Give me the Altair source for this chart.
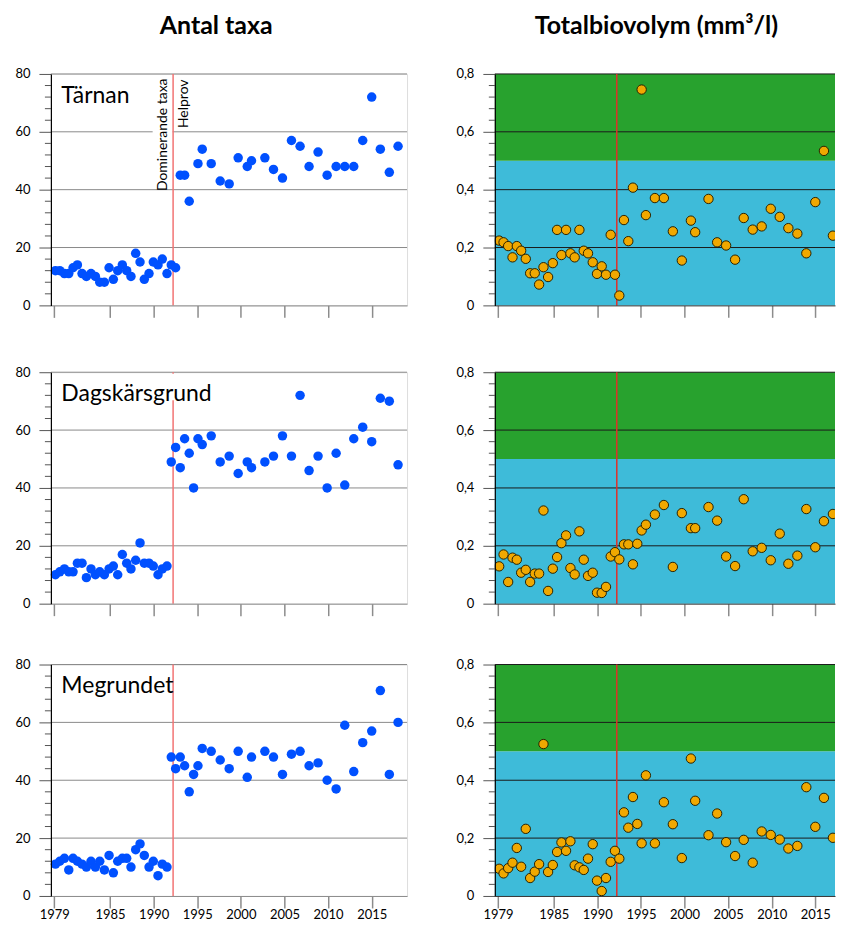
import altair as alt
import pandas as pd

# ---------------- data ----------------
dates = [1978.74, 1979.24, 1979.77, 1980.27, 1980.76, 1981.26, 1981.79, 1982.29,
         1982.82, 1983.32, 1983.82, 1984.35, 1984.89, 1985.38, 1985.88, 1986.41,
         1986.91, 1987.40, 1987.94, 1988.44, 1988.93, 1989.47, 1989.96, 1990.50,
         1990.99, 1991.53, 1992.02, 1992.52, 1993.05, 1993.55, 1994.08, 1994.58,
         1995.08, 1995.57, 1996.60, 1997.63, 1998.66, 1999.69, 2000.73, 2001.22,
         2002.75, 2003.74, 2004.77, 2005.80, 2006.79, 2007.82, 2008.85, 2009.89,
         2010.92, 2011.91, 2012.94, 2013.97, 2015.00, 2015.99, 2017.02, 2018.02]
# Tärnan has no sample at 1994.58
dates_tarnan = dates[:31] + dates[32:]

stations = ["Tärnan", "Dagskärsgrund", "Megrundet"]

taxa_tarnan = [12, 12, 11, 11, 13, 14, 11, 10, 11, 10, 8, 8, 13, 9, 12, 14, 12, 10,
               18, 15, 9, 11, 15, 14, 16, 11, 14, 13,
               45, 45, 36, 49, 54, 49, 43, 42, 51, 48, 50, 51, 47, 44, 57, 55, 48,
               53, 45, 48, 48, 48, 57, 72, 54, 46, 55]
taxa_dagskar = [10, 11, 12, 11, 11, 14, 14, 9, 12, 10, 11, 10, 12, 13, 10, 17, 14, 12,
                15, 21, 14, 14, 13, 10, 12, 13,
                49, 54, 47, 57, 52, 40, 57, 55, 58, 49, 51, 45, 49, 47, 49, 51, 58,
                51, 72, 46, 51, 40, 52, 41, 57, 61, 56, 71, 70, 48]
taxa_megrund = [11, 12, 13, 9, 13, 12, 11, 10, 12, 10, 12, 9, 14, 8, 12, 13, 13, 10,
                16, 18, 14, 10, 12, 7, 11, 10,
                48, 44, 48, 45, 36, 42, 45, 51, 50, 47, 44, 50, 41, 48, 50, 48, 42,
                49, 50, 45, 46, 40, 37, 59, 43, 53, 57, 71, 42, 60]

bio_tarnan = [0.224, 0.218, 0.205, 0.166, 0.205, 0.189, 0.161, 0.111, 0.111, 0.072,
              0.132, 0.098, 0.146, 0.261, 0.174, 0.261, 0.180, 0.166, 0.261, 0.189,
              0.180, 0.149, 0.109, 0.135, 0.106, 0.244, 0.106, 0.034,
              0.295, 0.222, 0.407, 0.746, 0.312, 0.371, 0.371, 0.256, 0.155, 0.293,
              0.253, 0.368, 0.218, 0.207, 0.158, 0.302, 0.262, 0.273, 0.334, 0.306,
              0.267, 0.248, 0.180, 0.357, 0.534, 0.241, 0.405]
bio_dagskar = [0.129, 0.170, 0.075, 0.159, 0.152, 0.107, 0.117, 0.075, 0.104, 0.104,
               0.322, 0.044, 0.121, 0.161, 0.209, 0.236, 0.123, 0.101, 0.250, 0.152,
               0.096, 0.107, 0.038, 0.037, 0.058, 0.163, 0.178,
               0.153, 0.205, 0.205, 0.136, 0.207, 0.253, 0.273, 0.308, 0.341, 0.127,
               0.313, 0.261, 0.261, 0.334, 0.287, 0.163, 0.130, 0.361, 0.181, 0.193,
               0.150, 0.242, 0.138, 0.166, 0.327, 0.195, 0.285, 0.310, 0.159]
bio_megrund = [0.094, 0.078, 0.096, 0.115, 0.166, 0.101, 0.232, 0.062, 0.084, 0.110,
               0.525, 0.083, 0.107, 0.152, 0.185, 0.156, 0.189, 0.106, 0.099, 0.090,
               0.129, 0.179, 0.053, 0.017, 0.062, 0.118, 0.156,
               0.129, 0.289, 0.236, 0.342, 0.249, 0.182, 0.417, 0.182, 0.324, 0.248,
               0.131, 0.475, 0.329, 0.210, 0.285, 0.186, 0.138, 0.194, 0.115, 0.223,
               0.211, 0.195, 0.164, 0.173, 0.376, 0.239, 0.339, 0.201, 0.216]

station_dates = [dates_tarnan, dates, dates]
station_taxa = [taxa_tarnan, taxa_dagskar, taxa_megrund]
station_bio = [bio_tarnan, bio_dagskar, bio_megrund]

method_change = 1992.23
method_labels = ["Dominerande taxa", "Helprov"]

x_domain_left = [1978.22, 2019.05]
x_domain_right = [1978.24, 2017.26]
x_ticks = [1978.6, 1985, 1990, 1995, 2000, 2005, 2010, 2015]

taxa_major = [0, 20, 40, 60, 80]
taxa_grid = [20, 40, 60, 80]
taxa_minor = [4, 8, 12, 16, 24, 28, 32, 36, 44, 48, 52, 56, 64, 68, 72, 76]

bio_major = [0, 0.2, 0.4, 0.6, 0.8]
bio_grid = [0.2, 0.4, 0.6, 0.8]
bio_minor = [0.04, 0.08, 0.12, 0.16, 0.24, 0.28, 0.32, 0.36, 0.44, 0.48, 0.52,
             0.56, 0.64, 0.68, 0.72, 0.76]
band_lo = [0.0, 0.5]
band_hi = [0.5, 0.8]
band_color = ["#3ebbd9", "#28a22e"]

titles = ["Antal taxa", "Totalbiovolym (mm³/l)"]

# ---------------- styling ----------------
WL, WR, H = 357, 341, 232
FONT = "Lato"
BLUE_DOT = "#0050ff"
ORANGE = "#f0a800"
# extra head room (px) above each row, sets the unequal gaps between rows
row_headroom = [0, 15.7, 10]


def x_enc(field, labels, domain_color, domain):
    return alt.X(
        f"{field}:Q",
        scale=alt.Scale(domain=domain, nice=False, zero=False),
        axis=alt.Axis(values=x_ticks, labels=labels, title=None, grid=False,
                      labelExpr="datum.value < 1980 ? '1979' : format(datum.value, 'd')",
                      tickSize=12, tickColor="#8c8c8c", tickWidth=1.5,
                      domainColor=domain_color, domainWidth=1,
                      labelFont=FONT, labelFontSize=13, labelColor="black",
                      labelPadding=1, zindex=1),
    )


def y_enc(field, domain, values, label_expr):
    return alt.Y(
        f"{field}:Q",
        scale=alt.Scale(domain=domain, nice=False, zero=True),
        axis=alt.Axis(values=values, title=None, grid=False, labelExpr=label_expr,
                      tickSize=12, tickColor="#555555", tickWidth=1,
                      domainColor="black", domainWidth=1.2,
                      labelFont=FONT, labelFontSize=13, labelColor="black",
                      labelPadding=9, zindex=1),
    )


def column_title(text, cx):
    return alt.Chart(pd.DataFrame({"t": [text]})).mark_text(
        font=FONT, fontSize=25, fontWeight="bold", align="center",
        baseline="alphabetic", color="black").encode(
        x=alt.value(cx), y=alt.value(-39.7), text="t:N")


def taxa_panel(i, bottom):
    df = pd.DataFrame({"date": station_dates[i], "v": station_taxa[i]})
    ydom = [0, 80]
    yexpr = "format(datum.value, 'd')"
    grid = alt.Chart(pd.DataFrame({"v": taxa_grid})).mark_rule(
        color="#8a8a8a", strokeWidth=1).encode(y=y_enc("v", ydom, taxa_major, yexpr))
    minor = alt.Chart(pd.DataFrame({"v": taxa_minor})).mark_rule(
        color="#555555", strokeWidth=1).encode(
        y=y_enc("v", ydom, taxa_major, yexpr), x=alt.value(-6), x2=alt.value(0))
    layers = [grid, minor]
    if row_headroom[i] > 0:
        layers.append(alt.Chart(pd.DataFrame({"a": [0]})).mark_rect(
            color="white", opacity=0).encode(
            x=alt.value(200), x2=alt.value(202),
            y=alt.value(-row_headroom[i]), y2=alt.value(-row_headroom[i] + 2)))
    if i == 0:
        layers.append(alt.Chart(pd.DataFrame({"a": [0]})).mark_rect(color="white").encode(
            x=alt.value(102), x2=alt.value(122), y=alt.value(4), y2=alt.value(113)))
    red = alt.Chart(pd.DataFrame({"date": [method_change]})).mark_rule(
        color="#f27474", strokeWidth=1.5).encode(
        x=x_enc("date", bottom, "#8a8a8a", x_domain_left))
    layers.append(red)
    if i == 1:
        layers.append(alt.Chart(pd.DataFrame({"a": [0]})).mark_rect(color="white").encode(
            x=alt.value(6), x2=alt.value(160), y=alt.value(1.5), y2=alt.value(28)))
    pts = alt.Chart(df).mark_circle(size=90, color=BLUE_DOT, opacity=1).encode(
        x=x_enc("date", bottom, "#8a8a8a", x_domain_left),
        y=y_enc("v", ydom, taxa_major, yexpr))
    layers.append(pts)
    name = alt.Chart(pd.DataFrame({"t": [stations[i]]})).mark_text(
        font=FONT, fontSize=23, align="left", baseline="alphabetic", color="black").encode(
        x=alt.value(10.5), y=alt.value(29), text="t:N")
    layers.append(name)
    if i == 0:
        ann = alt.Chart(pd.DataFrame({"t": method_labels, "px": [112.4, 133.4],
                                      "py": [4.5, 5.5]})).mark_text(
            font=FONT, fontSize=14, angle=270, align="right", baseline="middle",
            color="black").encode(x=alt.X("px:Q", scale=None), y=alt.Y("py:Q", scale=None),
                                  text="t:N")
        layers.append(ann)
        layers.append(column_title(titles[0], 165.7))
    return alt.layer(*layers).properties(width=WL, height=H)


def bio_panel(i, bottom):
    df = pd.DataFrame({"date": station_dates[i], "v": station_bio[i]})
    ydom = [0, 0.8]
    yexpr = "datum.value == 0 ? '0' : replace(format(datum.value, '.1f'), '.', ',')"
    bands = alt.Chart(pd.DataFrame({"lo": band_lo, "hi": band_hi, "c": band_color})).mark_rect(
        opacity=1).encode(
        y=y_enc("lo", ydom, bio_major, yexpr), y2="hi:Q",
        x=alt.value(0), x2=alt.value(WR), color=alt.Color("c:N", scale=None))
    grid = alt.Chart(pd.DataFrame({"v": bio_grid})).mark_rule(
        color="#1a1a1a", strokeWidth=1).encode(y=y_enc("v", ydom, bio_major, yexpr))
    minor = alt.Chart(pd.DataFrame({"v": bio_minor})).mark_rule(
        color="#555555", strokeWidth=1).encode(
        y=y_enc("v", ydom, bio_major, yexpr), x=alt.value(-6), x2=alt.value(0))
    red = alt.Chart(pd.DataFrame({"date": [method_change]})).mark_rule(
        color="#e0302a", strokeWidth=1.5).encode(
        x=x_enc("date", bottom, "#333333", x_domain_right))
    pts = alt.Chart(df).mark_circle(size=88, color=ORANGE, opacity=1, stroke="#2a2200",
                                    strokeWidth=1, clip=True).encode(
        x=x_enc("date", bottom, "#333333", x_domain_right),
        y=y_enc("v", ydom, bio_major, yexpr))
    layers = [bands, grid, minor, red, pts]
    if i == 0:
        layers.append(column_title(titles[1], 162))
    return alt.layer(*layers).properties(
        width=WR, height=H, view=alt.ViewBackground(stroke="transparent"))


rows = []
for i in range(3):
    bottom = i == 2
    rows.append(alt.hconcat(taxa_panel(i, bottom), bio_panel(i, bottom),
                            spacing=88, bounds="flush"))

chart = alt.vconcat(*rows, spacing=36, bounds="full").properties(
    padding={"left": 6, "top": 4, "right": 0, "bottom": 0}
).configure_view(stroke="#8a8a8a", strokeWidth=1).configure(font=FONT)

chart.save("out.html", embed_options={"renderer": "svg", "actions": False})
